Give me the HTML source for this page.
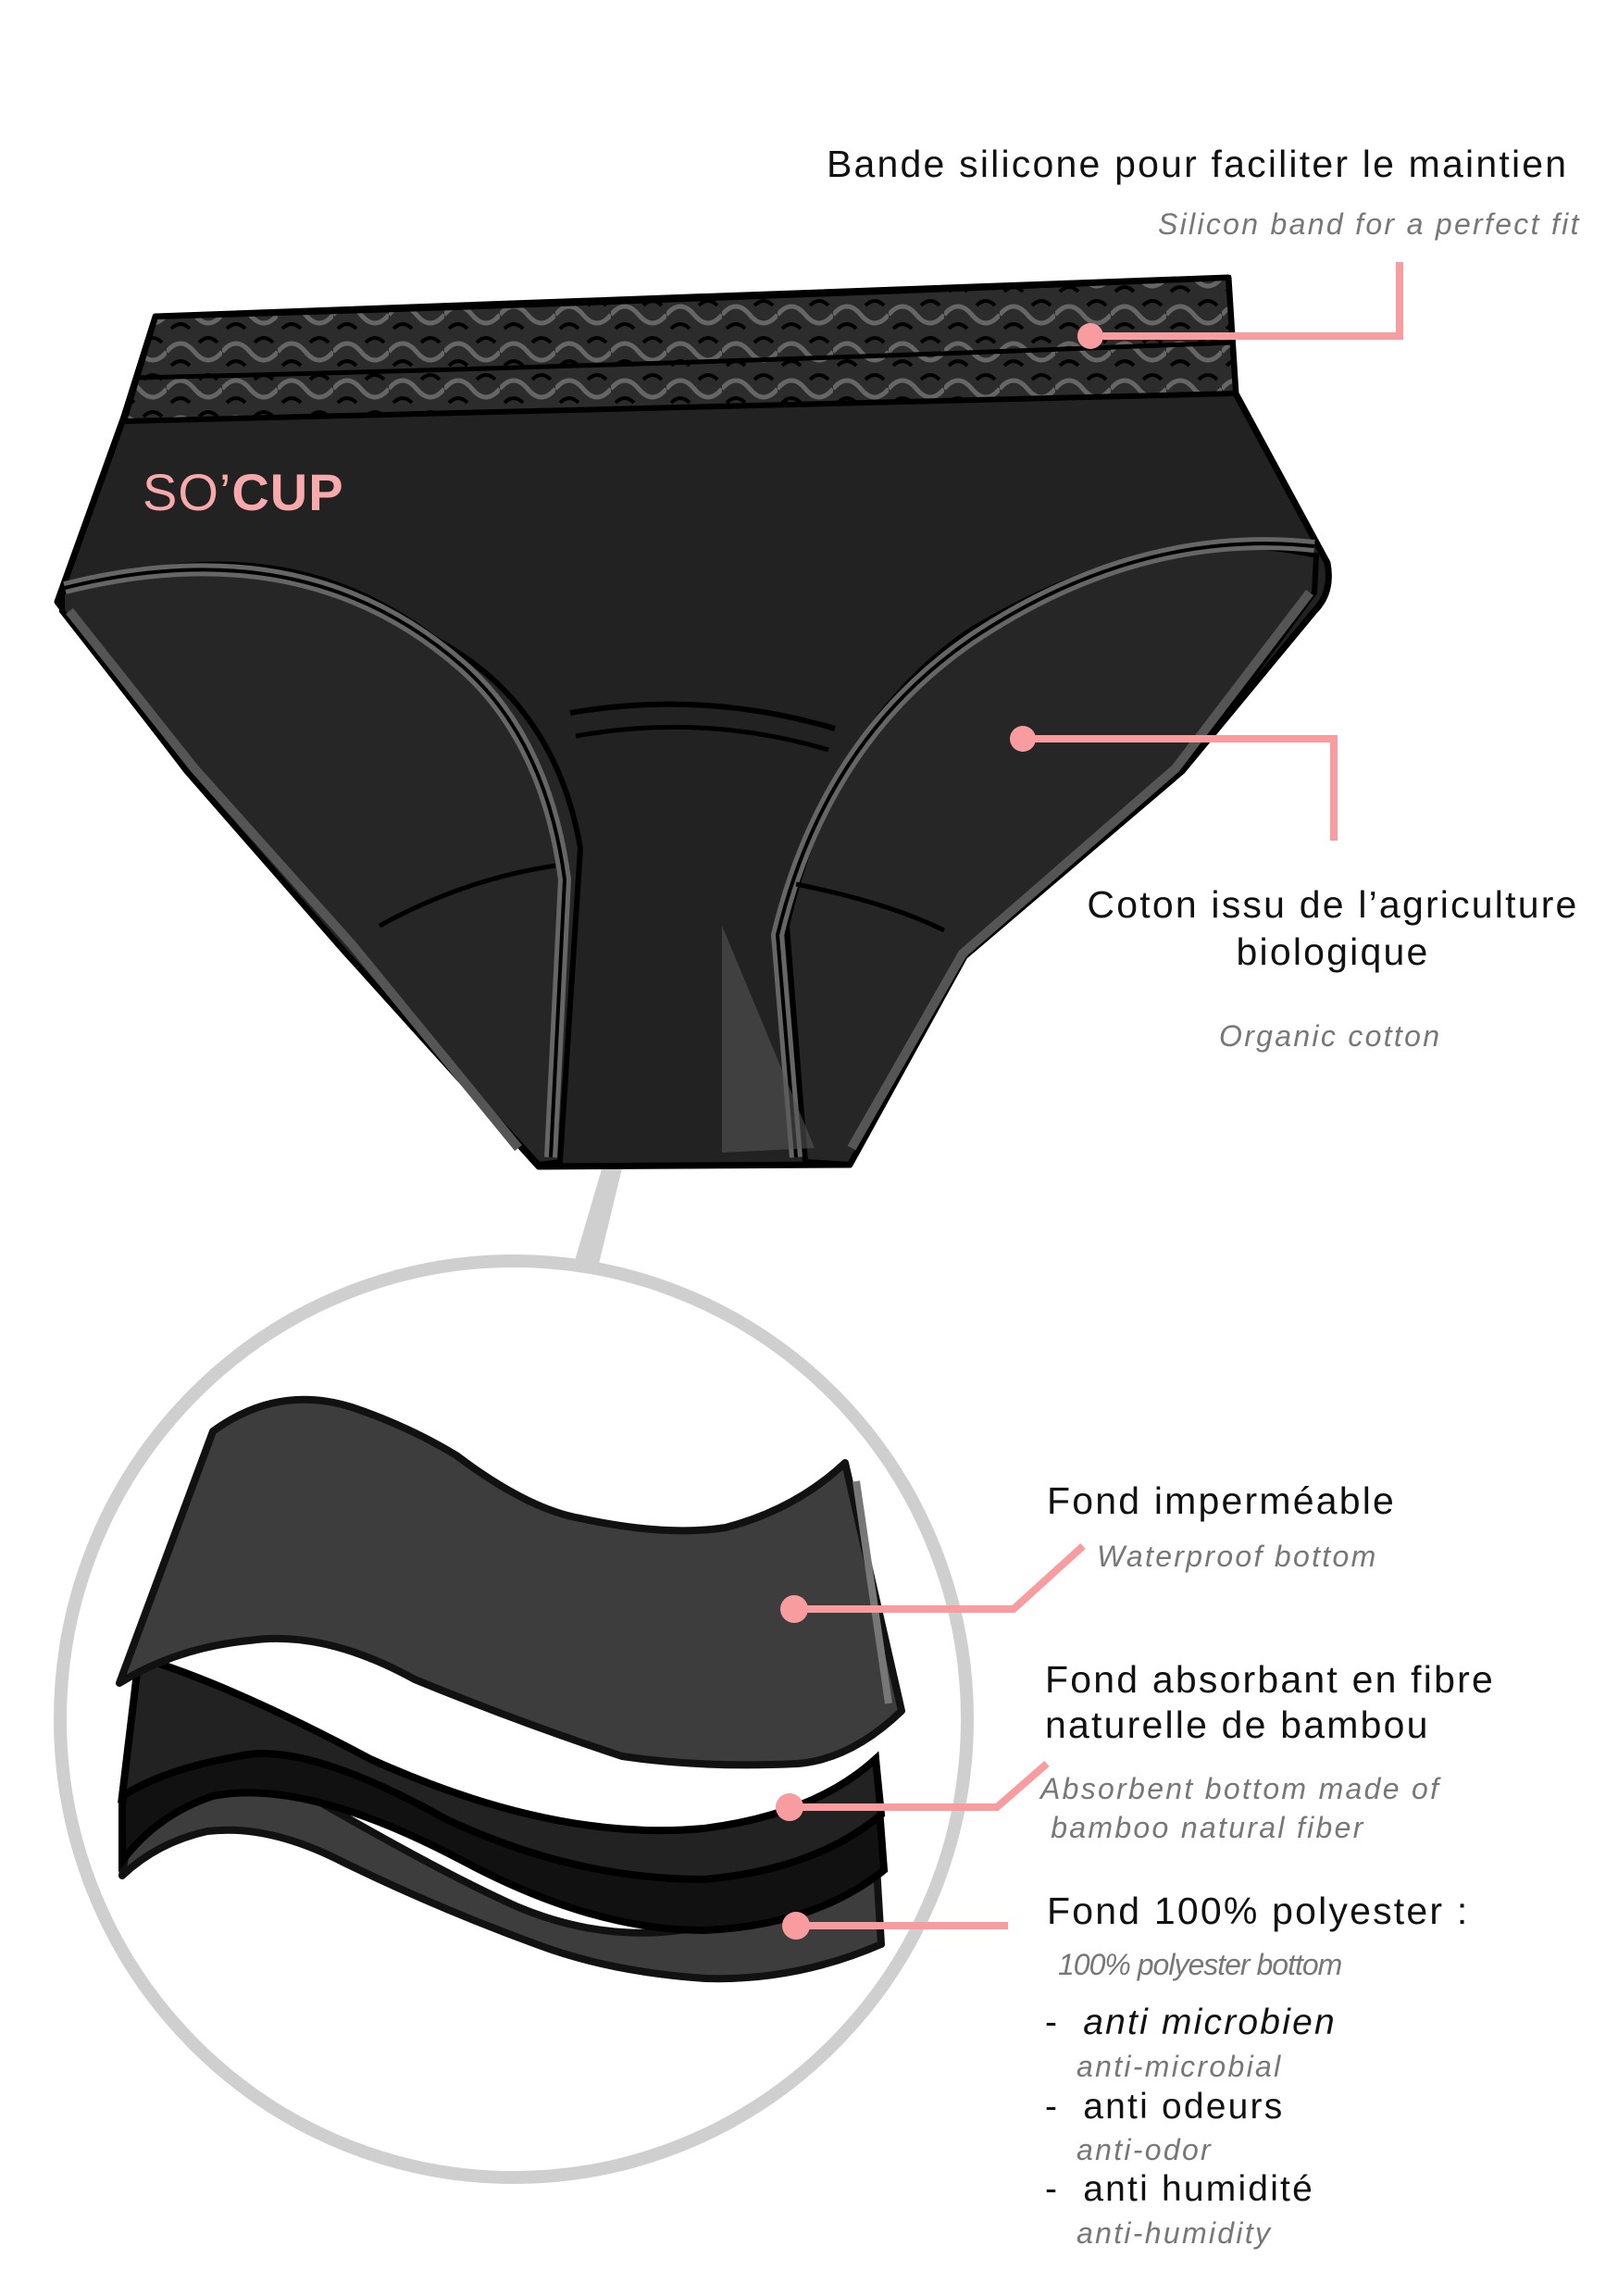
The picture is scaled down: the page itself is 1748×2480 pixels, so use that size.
<!DOCTYPE html>
<html><head><meta charset="utf-8"><style>
html,body{margin:0;padding:0;background:#fff}
body{width:1748px;height:2480px;position:relative;overflow:hidden;font-family:"Liberation Sans",sans-serif}
.t{position:absolute;white-space:nowrap;color:#111;font-size:41px;line-height:1;letter-spacing:2.2px}
.i{position:absolute;white-space:nowrap;color:#777;font-size:32px;font-style:italic;line-height:1;letter-spacing:2.3px}
</style></head><body>
<svg width="1748" height="2480" style="position:absolute;left:0;top:0">
<defs>
<pattern id="lace" width="60" height="40" patternUnits="userSpaceOnUse">
<rect width="60" height="40" fill="#2c2c2c"/>
<path d="M0 20 q15 -18 30 0 t30 0" stroke="#666" stroke-width="5" fill="none"/>
<path d="M5 35 q10 -10 20 0 M35 10 q10 -10 20 0" stroke="#000" stroke-width="4" fill="none"/>
</pattern>
</defs>
<polygon points="730,990 738,990 647,1365 620,1365" fill="#cfcfcf"/>
<ellipse cx="555" cy="1857" rx="490" ry="495" fill="none" stroke="#cfcfcf" stroke-width="14"/>
<path d="M168,342 L1327,300 L1335,425 L1434,608 Q1440,640 1420,660 L1277,833 L1042,1033 L918,1258 L582,1260 L370,1025 L202,833 L62,650 L134,450 Z" fill="#222" stroke="#000" stroke-width="7" stroke-linejoin="round"/>
<path d="M168,342 Q600,330 1327,300 L1335,425 Q700,440 134,455 Z" fill="url(#lace)" stroke="#000" stroke-width="6"/>
<path d="M150,408 Q700,395 1333,370" stroke="#000" stroke-width="5" fill="none"/>
<path d="M67,640 Q300,560 470,690 Q600,760 627,916 L605,1255 L582,1258 L370,1025 L202,833 L67,660 Z" fill="#262626" stroke="#000" stroke-width="6"/>
<path d="M70,635 Q330,570 500,720 Q590,800 610,950 L595,1250" stroke="#666" stroke-width="14" fill="none"/>
<path d="M70,635 Q330,570 500,720 Q590,800 610,950 L595,1250" stroke="#000" stroke-width="4" fill="none"/>
<path d="M75,660 L210,830 L380,1020 L560,1240" stroke="#555" stroke-width="10" fill="none"/>
<path d="M1422,600 Q1250,560 1050,680 Q900,780 850,1000 L870,1255 L918,1258 L1042,1033 L1277,833 L1420,640 Z" fill="#262626" stroke="#000" stroke-width="6"/>
<path d="M1420,590 Q1230,570 1050,690 Q890,800 840,1010 L860,1250" stroke="#666" stroke-width="14" fill="none"/>
<path d="M1420,590 Q1230,570 1050,690 Q890,800 840,1010 L860,1250" stroke="#000" stroke-width="4" fill="none"/>
<path d="M1415,640 L1270,830 L1040,1030 L920,1240" stroke="#555" stroke-width="10" fill="none"/>
<path d="M616,770 Q760,745 902,787" stroke="#000" stroke-width="6" fill="none"/>
<path d="M622,795 Q760,770 895,810" stroke="#000" stroke-width="5" fill="none"/>
<path d="M410,1000 Q500,950 600,935 M860,955 Q960,975 1020,1005" stroke="#000" stroke-width="5" fill="none"/>
<path d="M780,1000 L880,1240 L780,1245 Z" fill="#555" opacity=".6"/>
<path d="M132,2026 L150,1900 Q220,1880 300,1920 Q470,2020 560,2060 Q680,2110 800,2070 Q900,2030 946,2000 L952,2100 Q860,2140 762,2137 Q660,2130 582,2101 Q470,2060 370,2011 Q290,1970 224,1978 Q170,1990 132,2026 Z" fill="#3d3d3d" stroke="#111" stroke-width="8" stroke-linejoin="round"/>
<path d="M132,1950 L150,1790 Q250,1820 400,1900 Q600,1990 760,1980 Q880,1960 946,1900 L955,2020 Q880,2080 760,2085 Q640,2085 500,2010 Q330,1920 230,1940 Q170,1960 132,2010 Z" fill="#111" stroke="#000" stroke-width="8"/>
<path d="M132,1940 L150,1790 Q250,1820 400,1900 Q600,1990 760,1975 Q880,1960 946,1900 L952,1960 Q880,2020 760,2030 Q620,2030 482,1965 Q330,1880 258,1897 Q180,1910 132,1940 Z" fill="#222" stroke="#000" stroke-width="8"/>
<path d="M129,1818 L230,1546 Q300,1495 380,1520 Q440,1540 493,1572 Q570,1630 627,1640 Q720,1660 784,1650 Q860,1630 913,1580 L974,1848 Q920,1900 862,1905 Q760,1910 672,1897 Q560,1860 448,1814 Q350,1760 269,1772 Q190,1780 129,1818 Z" fill="#3d3d3d" stroke="#111" stroke-width="8" stroke-linejoin="round"/>
<path d="M925,1600 L960,1840" stroke="#777" stroke-width="8" fill="none"/>
<g stroke="#f99ca0" stroke-width="8" fill="none">
<path d="M1178,363 L1512,363 L1512,283"/>
<path d="M1105,798 L1441,798 L1441,908"/>
<path d="M858,1738 L1095,1738 L1170,1670"/>
<path d="M853,1952 L1077,1952 L1131,1905"/>
<path d="M860,2080 L1089,2080"/>
</g>
<g fill="#f99ca0">
<circle cx="1178" cy="363" r="14"/><circle cx="1105" cy="798" r="14"/>
<circle cx="858" cy="1738" r="15"/><circle cx="853" cy="1952" r="15"/><circle cx="860" cy="2080" r="15"/>
</g>
</svg>
<div class="t" style="left:154px;top:504px;font-size:56px;color:#f7a9ab;letter-spacing:1px">SO’<b>CUP</b></div>
<div class="t" style="left:893px;top:157px">Bande silicone pour faciliter le maintien</div>
<div class="i" style="left:1251px;top:226px">Silicon band for a perfect fit</div>
<div class="t" style="left:1120px;top:952px;width:640px;text-align:center;line-height:51px;white-space:normal">Coton issu de l’agriculture biologique</div>
<div class="i" style="left:1317px;top:1103px">Organic cotton</div>
<div class="t" style="left:1131px;top:1601px">Fond imperméable</div>
<div class="i" style="left:1185px;top:1665px">Waterproof bottom</div>
<div class="t" style="left:1129px;top:1790px;line-height:49px">Fond absorbant en fibre<br>naturelle de bambou</div>
<div class="i" style="left:1124px;top:1911px;line-height:42px">Absorbent bottom made of<br>&nbsp;bamboo natural fiber</div>
<div class="t" style="left:1131px;top:2044px">Fond 100% polyester :</div>
<div class="i" style="left:1143px;top:2106px;letter-spacing:-1px">100% polyester bottom</div>
<div class="t" style="left:1129px;top:2165px;font-size:39px">- &nbsp;<i>anti microbien</i></div>
<div class="i" style="left:1163px;top:2216px">anti-microbial</div>
<div class="t" style="left:1129px;top:2256px;font-size:39px">- &nbsp;anti odeurs</div>
<div class="i" style="left:1163px;top:2306px">anti-odor</div>
<div class="t" style="left:1129px;top:2345px;font-size:39px">- &nbsp;anti humidité</div>
<div class="i" style="left:1163px;top:2396px">anti-humidity</div>
</body></html>
